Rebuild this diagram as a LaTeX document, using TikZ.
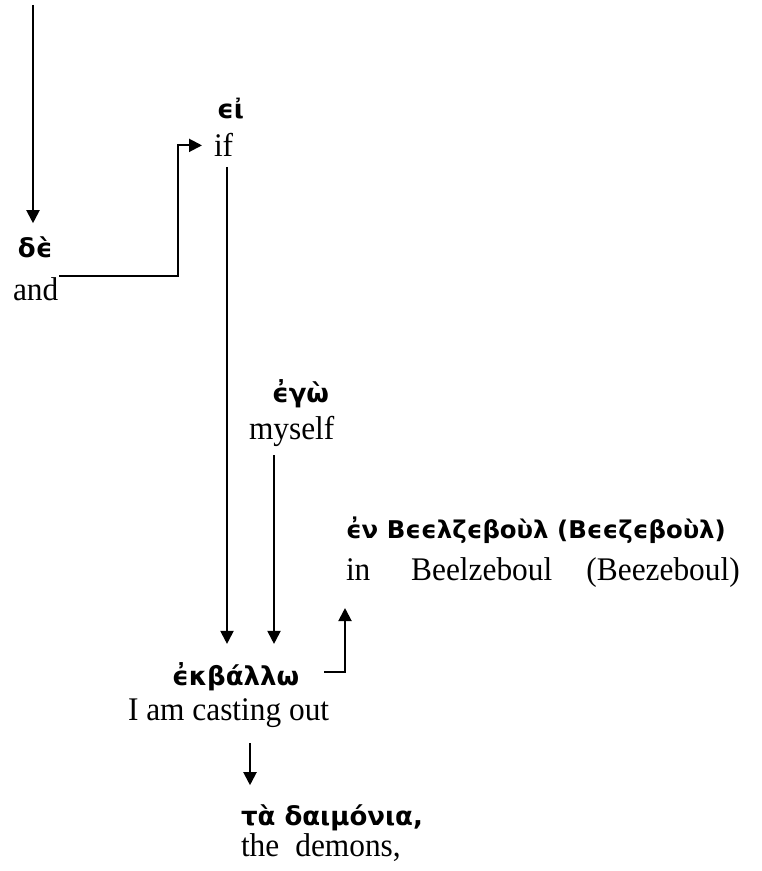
\documentclass[tikz,border=0pt]{standalone}
\usepackage{fontspec}
\setmainfont[FakeStretch=0.95]{Liberation Serif}
\newfontfamily\gkfont{DejaVu Sans}
\usetikzlibrary{arrows.meta}

\begin{document}
\begin{tikzpicture}[x=0.5pt, y=-0.5pt, line width=1pt,
    >={Triangle[width=6.5pt,length=6.5pt]},
    gk/.style={font=\gkfont\bfseries\fontsize{13}{15}\selectfont, inner sep=0pt, anchor=base west},
    en/.style={font=\fontsize{16.5}{19}\selectfont, inner sep=0pt, anchor=base west}]
  \useasboundingbox (0,0) rectangle (761,871);
  \node [gk] (de) at (17,258) {δϵ̀};
  \node [en] (and) at (12,300) {and};
  \node [gk] (ei) at (216,119) {ϵἰ};
  \node [en] (if) at (213,157) {if};
  \node [gk] (ego) at (271,402) {ϵ̓γὼ};
  \node [en] (myself) at (248,439) {myself};
  \node [gk, font=\gkfont\bfseries\fontsize{12.2}{15}\selectfont] (ev) at (345,538) {ϵ̓ν Βϵϵλζϵβοὺλ (Βϵϵζϵβοὺλ)};
  \node [en] (in) at (345,580) {in\hspace{1em} Beelzeboul\hspace{.8em} (Beezeboul)};
  \node [gk] (ekb) at (171,685) {ϵ̓κβάλλω};
  \node [en] (cast) at (127,720) {I am casting out};
  \node [gk] (ta) at (240,825) {τὰ δαιμόνια,};
  \node [en] (demons) at (240,856) {the\hspace{.25em} demons,};
  \coordinate (top) at (33,5);
  \coordinate (turn) at (178,0);
  \coordinate (ifend) at (227,167);
  \coordinate (myend) at (274,455);
  \coordinate (castend) at (250,743);
  \draw [->, shorten >=6.5pt] (top) -- (top |- de.north);
  \draw [->, shorten >=5.5pt] (and.north east) -| (turn |- if.west) -- (if.west);
  \draw [->, shorten >=9pt] (ifend) -- (ifend |- ekb.north);
  \draw [->, shorten >=9pt] (myend) -- (myend |- ekb.north);
  \draw [->] ([xshift=12pt, yshift=2.25pt]ekb.east) -| ([yshift=-10pt]in.south west);
  \draw [->, shorten >=9pt] (castend) -- (castend |- ta.north);
\end{tikzpicture}
\end{document}
